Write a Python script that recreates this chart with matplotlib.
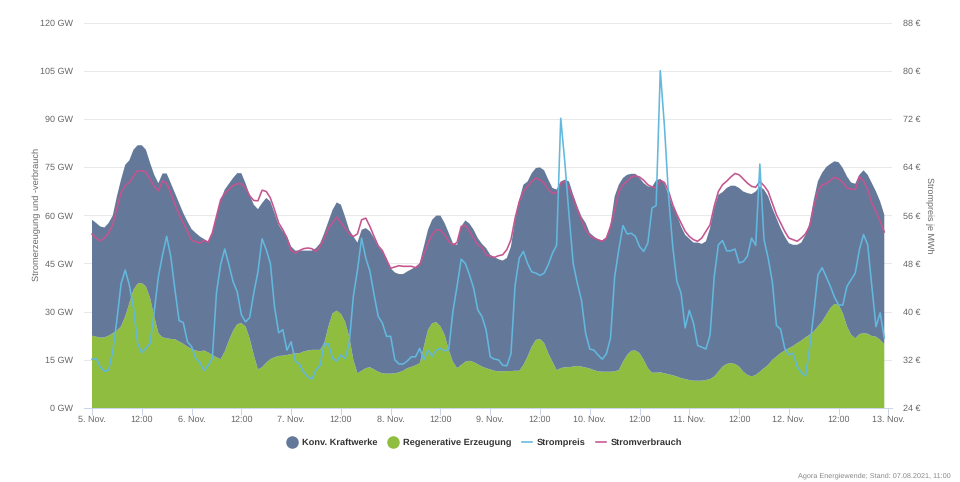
import matplotlib
matplotlib.use('Agg')
import matplotlib.pyplot as plt
from matplotlib.lines import Line2D
import numpy as np

plt.rcParams['font.family'] = ['Liberation Sans', 'DejaVu Sans']
plt.rcParams['text.hinting'] = 'none'

# hourly values, 5. Nov 00:00 to 12. Nov 23:00
gesamt = [58.6, 57.6, 56.5, 56.2, 57.6, 59.9, 65.9, 71.1, 75.7, 77.1, 80.4, 81.8, 81.8, 80.4, 76.3, 72.6,
          70, 73, 73, 70, 66.9, 63.8, 60.7, 58.1, 55.7, 54.5, 53.4, 52.6, 51.8, 54.2, 59.6, 64.6,
          68, 69.8, 71.6, 73.1, 73.1, 70, 66.4, 63.3, 61.9, 63.8, 65.4, 64.3, 60.7, 57, 55, 53.4,
          50.3, 49, 49, 49, 49, 49, 49.8, 51.3, 54.5, 58.1, 61.7, 64, 63.3, 59.6, 55.5,
          53.4, 51.5, 55.5, 56, 55, 52.9, 50.3, 48.7, 46.7, 43.5, 42.2, 41.7, 41.7, 42.5, 43.2, 43.9, 45.1,
          50.3, 55.5, 58.6, 59.9, 59.9, 57.6, 54.5, 51.3, 50.8, 56.5, 58.4, 57.4, 55.5, 52.9, 51.1, 49.8,
          47.7, 47, 46.3, 45.9, 46.7, 50.3, 58.6, 64.8, 69.5, 70.5, 73.1, 74.7, 74.9, 74, 71.1, 68.5,
          68, 70.5, 71.1, 70.5, 66.4, 62.8, 59.6, 57.6, 54.5, 53.4, 52.4, 52.2, 52.9, 57,
          65.9, 69.5, 71.6, 72.6, 72.9, 72.9, 71.6, 70, 69, 68.8, 70.9, 71.3, 69.8, 66.4, 62.8, 60.2,
          56.5, 53.9, 52.7, 51.5, 51.5, 51.1, 51.9, 56, 62.2, 66.4, 67.2, 68.5, 69.2, 69.2, 68.5, 67.4,
          66.9, 66.6, 67.4, 69, 68, 65.9, 62.2, 59.1, 56, 53.4, 51.3, 50.8, 50.8, 51.5, 53.9, 57.6,
          64.8, 70.6, 73.2, 75, 76, 76.8, 76.5, 74.7, 72.1, 70.2, 69.8, 72.6, 74, 72.6, 70, 67.4, 64.3, 60.2]

regenerativ = [22.5, 22.2, 21.9, 22, 22.5, 23.3, 24.1, 25.4, 28.5, 32.6, 36.8, 38.7, 38.9, 37.8, 34.2, 28.5,
               23.3, 22, 21.7, 21.5, 21.4, 20.7, 20, 19.1, 18.4, 17.9, 17.6, 17.9, 17.3, 16.5, 15.8, 15.2,
               17.6, 21, 24, 26.1, 26.4, 25.4, 21.7, 16.5, 12, 12.7, 14.1, 15.2, 15.8, 16.2, 16.3, 16.5,
               16.8, 17, 17, 17.6, 17.9, 18.1, 18.1, 18.1, 20.2, 25.4, 29.5, 30.3, 29.3, 26.9, 22.2,
               15, 10.8, 11.6, 12.4, 12.7, 12, 11.3, 10.8, 10.7, 10.7, 10.8, 11.1, 11.6, 12.4, 12.8, 13.3, 13.9,
               19.1, 24.3, 26.4, 26.7, 25.4, 22.8, 18.1, 14.4, 12.4, 13.4, 14.4, 14.7, 14.3, 13.6, 12.9, 12.4,
               12, 11.6, 11.4, 11.4, 11.5, 11.5, 11.6, 11.6, 13.4, 16, 19.1, 21.2, 21.5, 20.2, 17, 14.4,
               11.8, 12.4, 12.7, 12.7, 12.9, 13.1, 12.9, 12.6, 12.3, 11.8, 11.4, 11.3, 11.3, 11.3,
               11.4, 11.8, 14.4, 16.5, 17.8, 17.9, 17.1, 15, 12.4, 11, 11, 11.1, 10.8, 10.5, 10.2, 9.8,
               9.3, 9, 8.7, 8.5, 8.5, 8.5, 8.7, 9, 9.8, 11.3, 12.9, 13.7, 14, 13.7, 12.9, 11.3,
               10.3, 9.8, 10.3, 11.3, 12.4, 13.4, 15, 16, 17.1, 17.9, 18.6, 19.3, 20.2, 21, 22, 22.8,
               23.8, 25.4, 26.9, 29, 31.1, 32.4, 32.1, 29.5, 25.4, 22.8, 21.7, 23, 23.3, 23.1, 22.4, 22.2, 21.2, 19.9]

verbrauch = [54.1, 52.9, 52, 52.9, 54.5, 57, 62.2, 66.9, 69.3, 70.2, 72.1, 73.9, 73.9, 73.4, 71.1, 69,
             67.6, 70.6, 70, 66.9, 63.3, 60.2, 57.6, 55, 52.2, 51.8, 51.3, 52.2, 51.6, 54.5, 59.6, 64.8,
             66.9, 68, 69.2, 69.8, 69.8, 68.5, 66.1, 64.6, 64.5, 67.8, 67.4, 65.4, 61.7, 57.6, 55.5, 52.9,
             49, 48.2, 49, 49.6, 49.8, 49.6, 48.7, 50.3, 52.9, 56, 57.6, 59.4, 57.8, 56, 54.2,
             53.4, 54.2, 58.6, 59.1, 56.5, 53.4, 50.5, 49, 46.1, 43.5, 43.9, 44.3, 44.1, 44.1, 44.1, 43.7, 44.6,
             47.7, 51.3, 53.9, 55.5, 55.3, 53.9, 51.9, 50.8, 51.5, 56.5, 56.9, 55, 52.9, 50.8, 50.1, 47.7,
             47.2, 46.9, 47.4, 47.7, 49.3, 52.4, 59.1, 64.3, 67.4, 69, 70.5, 71.6, 71, 70, 68, 66.9,
             66.9, 70, 70.5, 68.5, 65.4, 61.7, 58.6, 55.5, 53.6, 52.9, 52.4, 51.9, 52.9, 56.5,
             61.7, 67.4, 69.5, 70.6, 71.9, 72.3, 71.9, 70.9, 69.5, 68.8, 68.5, 70.9, 70.2, 67.4, 63.3, 60.2,
             57.6, 55, 53.4, 52.4, 51.9, 52.9, 55, 57, 62.8, 67.4, 69.5, 70.6, 71.9, 73, 72.6, 71.3,
             70, 69, 68.7, 70.5, 69.2, 67.4, 63.8, 60.2, 57.6, 55, 52.9, 52.4, 51.9, 52.9, 54.2, 56.5,
             62.8, 67.4, 69.5, 69.8, 70.9, 71.8, 71.3, 70.2, 68.5, 68.2, 68, 72.1, 70.6, 68, 63.8, 61.2, 58.1, 54.8]

strompreis = [32.1, 32.2, 30.8, 30.1, 30.3, 33.4, 38.6, 44.6, 46.9, 44.4, 40.6, 34.7, 33.2, 33.9, 34.7, 40,
              45.8, 49.4, 52.5, 49.1, 43.6, 38.5, 38.2, 35, 34.2, 32.2, 31.6, 30.2, 31.1, 32.2, 43.1, 47.8,
              50.4, 47.8, 45, 43.3, 39.5, 38.3, 39, 43.1, 46.6, 52.1, 50.3, 48, 40.8, 36.5, 37, 33.6,
              35, 31.8, 31.3, 30, 29.2, 28.8, 30.3, 31.1, 34.7, 34.6, 32.2, 31.8, 32.8, 32.2, 34.7,
              42.5, 46.9, 52.2, 48.9, 46.7, 42.8, 39.2, 38.1, 35.9, 35.9, 32, 31.3, 31.3, 31.8, 32.5, 32.5, 33.9,
              32, 33.6, 32.6, 33.6, 33.9, 33.5, 33.7, 40, 44.2, 48.7, 48, 46.1, 43.9, 40.3, 39.2, 37,
              32.5, 32.1, 32, 31.1, 31, 33, 44.4, 48.9, 50, 48, 46.6, 46.4, 46, 46.4, 47.8, 49.7,
              51, 72.1, 64.7, 56, 48, 44.7, 41.9, 36.4, 33.8, 33.6, 32.8, 32.1, 33, 35.6,
              45.8, 50.3, 54.3, 52.9, 53, 52.5, 50.8, 50, 51.4, 57.2, 57.6, 80, 70.8, 59.1, 50.8, 45,
              43.1, 37.3, 40.2, 38.1, 34.4, 34.1, 33.8, 36.1, 45.8, 51.1, 51.8, 50.1, 50.1, 50.4, 48.1, 48.3,
              49.2, 52.2, 51, 64.5, 52, 48.9, 45, 37.7, 37.1, 33.9, 32.8, 33.1, 30.9, 29.9, 29.3, 34,
              39.8, 46.1, 47.3, 45.8, 44.2, 42.4, 41.1, 41.1, 44.2, 45.3, 46.4, 50.3, 52.8, 51.1, 44.2, 37.5, 39.8, 35.6]

tick_labels = ['5. Nov.', '12:00', '6. Nov.', '12:00', '7. Nov.', '12:00', '8. Nov.', '12:00', '9. Nov.',
               '12:00', '10. Nov.', '12:00', '11. Nov.', '12:00', '12. Nov.', '12:00', '13. Nov.']
gw_ticks = [0, 15, 30, 45, 60, 75, 90, 105, 120]
eur_ticks = [24, 32, 40, 48, 56, 64, 72, 80, 88]

grey = '#666666'
hours = np.arange(len(gesamt))
konv = np.array(gesamt) - np.array(regenerativ)

fig = plt.figure(figsize=(9.6, 4.82), dpi=100)
ax = fig.add_axes([84 / 960, 74 / 482, 808 / 960, 385.5 / 482])

ax.stackplot(hours, regenerativ, konv, colors=['#8fbd3f', '#64789a'], linewidth=0, zorder=2)
ax.plot(hours, verbrauch, color='#c4558f', lw=1.15, zorder=3)

ax.set_xlim(-1.93, 192.86)
ax.set_ylim(0, 120)
ax.set_yticks(gw_ticks)
ax.set_yticklabels([f'{v} GW' for v in gw_ticks])
ax.set_xticks(np.arange(0, 193, 12))
ax.set_xticklabels(tick_labels)
ax.grid(axis='y', color='#e9e9e9', lw=0.75, zorder=0)
ax.set_axisbelow(True)
ax.tick_params(axis='x', length=5, width=0.75, color='#ccd6eb', labelsize=6.5, labelcolor=grey, pad=0.5)
ax.tick_params(axis='y', length=0, labelsize=6.5, labelcolor=grey, pad=8)
for s in ['top', 'left', 'right']:
    ax.spines[s].set_visible(False)
ax.spines['bottom'].set_color('#ccd6eb')
ax.spines['bottom'].set_linewidth(0.75)

ax2 = ax.twinx()
ax2.plot(hours, strompreis, color='#62b8dd', lw=1.15, zorder=4)
ax2.set_ylim(24, 88)
ax2.set_yticks(eur_ticks)
ax2.set_yticklabels([f'{v} €' for v in eur_ticks])
ax2.tick_params(axis='y', length=0, labelsize=6.5, labelcolor=grey, pad=8)
for s in ['top', 'left', 'right', 'bottom']:
    ax2.spines[s].set_visible(False)

fig.text(37 / 960, 1 - 214 / 482, 'Stromerzeugung und -verbrauch', rotation=90, ha='center', va='center',
         fontsize=6.7, color=grey)
fig.text(929 / 960, 1 - 215 / 482, 'Strompreis je MWh', rotation=270, ha='center', va='center',
         fontsize=6.5, color=grey)
fig.text(951 / 960, 1 - 476 / 482, 'Agora Energiewende; Stand: 07.08.2021, 11:00', ha='right', va='center',
         fontsize=5.2, color='#888888')

handles = [Line2D([], [], ls='', marker='o', ms=8, color='#64789a'),
           Line2D([], [], ls='', marker='o', ms=8, color='#8fbd3f'),
           Line2D([], [], color='#62b8dd', lw=1.15),
           Line2D([], [], color='#c4558f', lw=1.15)]
fig.legend(handles, ['Konv. Kraftwerke', 'Regenerative Erzeugung', 'Strompreis', 'Stromverbrauch'],
           loc='center', bbox_to_anchor=(485 / 960, 1 - 443 / 482), ncol=4, frameon=False,
           prop={'size': 6.7, 'weight': 'bold'}, labelcolor='#333333', handlelength=1.07,
           handletextpad=0.55, columnspacing=1.1)

fig.savefig('out.png', dpi=100)
